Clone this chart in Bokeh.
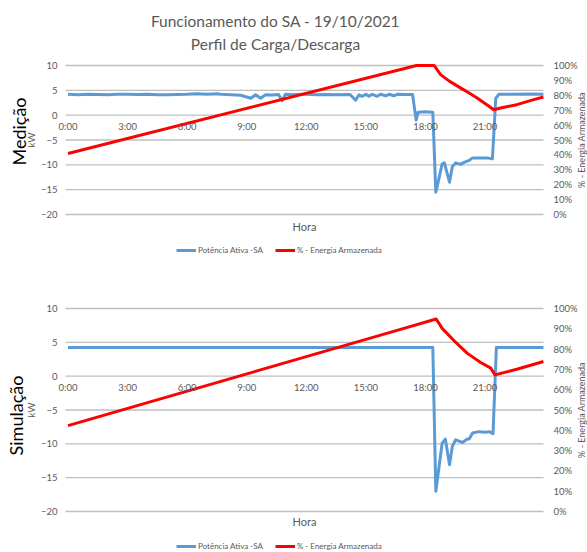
import math
from bokeh.plotting import figure
from bokeh.models import Range1d, LinearAxis, FixedTicker, Legend, Label
from bokeh.layouts import column
from bokeh.embed import file_html
from bokeh.resources import INLINE

# ---------------- data ----------------
TITLE_LINES = ["Funcionamento do SA - 19/10/2021", "Perfil de Carga/Descarga"]
ROW_LABELS = ["Medição", "Simulação"]
X_TITLE = "Hora"
Y_TITLE = "kW"
Y2_TITLE = "% - Energia Armazenada"
SERIES_NAMES = ["Potência Ativa -SA", "% - Energia Armazenada"]

HOUR_TICKS = [0, 3, 6, 9, 12, 15, 18, 21]
HOUR_LABELS = ["0:00", "3:00", "6:00", "9:00", "12:00", "15:00", "18:00", "21:00"]
KW_TICKS = [-20, -15, -10, -5, 0, 5, 10]
PCT_TICKS = [0, 10, 20, 30, 40, 50, 60, 70, 80, 90, 100]
PCT_LABELS = ["0%", "10%", "20%", "30%", "40%", "50%", "60%", "70%", "80%", "90%", "100%"]

# (hour, kW) measured active power
MED_POWER = [
    (0.0, 4.2), (0.5, 4.1), (1.0, 4.2), (1.5, 4.15), (2.0, 4.1), (2.5, 4.2),
    (3.0, 4.2), (3.5, 4.15), (4.0, 4.2), (4.5, 4.1), (5.0, 4.1), (5.5, 4.15),
    (6.0, 4.2), (6.5, 4.3), (7.0, 4.2), (7.5, 4.3), (7.7, 4.2), (8.2, 4.1),
    (8.7, 4.0), (9.2, 3.4), (9.45, 4.1), (9.7, 3.4), (9.95, 4.1), (10.3, 4.05),
    (10.6, 4.15), (10.78, 2.9), (10.95, 4.2), (11.3, 4.1), (11.7, 4.2), (12.0, 4.2),
    (12.5, 4.1), (13.0, 4.15), (13.5, 4.1), (14.2, 4.15), (14.48, 3.0), (14.65, 4.1),
    (14.8, 3.8), (15.0, 4.2), (15.15, 3.8), (15.32, 4.2), (15.57, 3.8), (15.74, 4.2),
    (16.0, 3.9), (16.16, 4.2), (16.41, 3.9), (16.57, 4.2), (17.0, 4.15), (17.35, 4.15),
    (17.53, -1.0), (17.63, 0.6), (18.0, 0.7), (18.37, 0.6), (18.52, -15.5), (18.62, -13.8),
    (18.84, -9.8), (18.95, -9.6), (19.21, -13.5), (19.35, -10.4), (19.52, -9.6), (19.77, -9.9),
    (19.94, -9.5), (20.2, -9.1), (20.37, -8.6), (20.7, -8.6), (21.1, -8.6), (21.37, -8.8),
    (21.54, 3.4), (21.7, 4.2), (22.5, 4.2), (23.2, 4.25), (23.94, 4.2),
]
# (hour, %) measured stored energy
MED_SOC = [
    (0.0, 40.9), (17.55, 100.0), (18.44, 100.0), (18.76, 93.9), (19.2, 89.5),
    (19.76, 85.0), (20.2, 81.5), (20.6, 78.2), (21.0, 74.5), (21.44, 70.3),
    (21.78, 71.5), (22.6, 73.7), (23.45, 77.1), (23.94, 78.9),
]
# (hour, kW) simulated active power
SIM_POWER = [
    (0.0, 4.25), (18.37, 4.25), (18.52, -17.0), (18.84, -9.9), (19.0, -9.3),
    (19.21, -13.1), (19.35, -10.4), (19.52, -9.4), (19.86, -9.8), (20.11, -9.3),
    (20.2, -9.3), (20.37, -8.4), (20.7, -8.2), (21.04, -8.3), (21.2, -8.2),
    (21.4, -8.5), (21.57, 4.25), (23.94, 4.25),
]
# (hour, %) simulated stored energy
SIM_SOC = [
    (0.0, 42.3), (16.74, 89.7), (18.54, 94.8), (18.84, 90.2), (19.43, 84.2),
    (20.11, 77.9), (20.78, 73.4), (21.29, 70.6), (21.5, 67.3), (22.6, 70.1),
    (23.94, 73.9),
]

# ---------------- style / layout (pixel positions on the page) ----------------
W = 587
PLOT_L, PLOT_R = 65, 543        # left/right edge of the chart area
X_ZERO_PX, PX_PER_H = 67.5, 19.86
BLUE = "#5b9bd5"
RED = "#ff0000"
GRID = "#bfbfbf"
TXT = "#595959"
FONT = "Lato"
TICK_SIZE = "9.5px"


def hx(px):
    return (px - X_ZERO_PX) / PX_PER_H


def style_axis(ax, standoff):
    ax.axis_line_color = None
    ax.major_tick_line_color = None
    ax.major_tick_out = 0
    ax.minor_tick_line_color = None
    ax.major_label_standoff = standoff
    ax.major_label_text_font = FONT
    ax.major_label_text_font_size = TICK_SIZE
    ax.major_label_text_color = TXT


def make_panel(fig_top, fig_h, top10, bottom20, power, soc, row_label, row_c,
               hora_c, legend_cy, title_cs=None):
    ppk = (bottom20 - top10) / 30.0

    def ky(py):
        return 10 - (py - top10) / ppk

    def pct(kw):
        return (kw + 20) / 30.0 * 100

    y_lo, y_hi = ky(fig_top + fig_h), ky(fig_top)
    p = figure(width=W, height=fig_h, x_range=Range1d(hx(0), hx(W)),
               y_range=Range1d(y_lo, y_hi), output_backend="svg",
               toolbar_location=None, min_border=0, min_border_left=0,
               min_border_right=0, min_border_top=0, min_border_bottom=0)
    p.extra_y_ranges = {"pct": Range1d(pct(y_lo), pct(y_hi))}
    p.outline_line_color = None
    p.grid.visible = False

    x_l, x_r = hx(PLOT_L), hx(PLOT_R)

    # horizontal gridlines at the kW ticks, across the chart area
    p.segment(x0=x_l, x1=x_r, y0=KW_TICKS, y1=KW_TICKS,
              line_color=GRID, line_width=1.4)

    # time axis crossing at 0 kW
    xa = p.xaxis[0]
    xa.fixed_location = 0
    xa.ticker = FixedTicker(ticks=HOUR_TICKS)
    xa.major_label_overrides = dict(zip(HOUR_TICKS, HOUR_LABELS))
    style_axis(xa, 6)

    # kW axis on the left
    ya = p.yaxis[0]
    ya.fixed_location = x_l
    ya.bounds = (-20, 10)
    ya.ticker = FixedTicker(ticks=KW_TICKS)
    style_axis(ya, 8)
    ya.axis_label = Y_TITLE
    ya.axis_label_standoff = 1
    ya.axis_label_text_font = FONT
    ya.axis_label_text_font_size = "10px"
    ya.axis_label_text_font_style = "normal"
    ya.axis_label_text_color = TXT

    # % axis on the right
    ra = LinearAxis(y_range_name="pct", ticker=FixedTicker(ticks=PCT_TICKS),
                    major_label_overrides=dict(zip(PCT_TICKS, PCT_LABELS)))
    ra.fixed_location = x_r
    ra.bounds = (0, 100)
    style_axis(ra, 10)
    p.add_layout(ra, "right")

    rb = p.line([a for a, b in power], [b for a, b in power], line_color=BLUE,
                line_width=3, line_join="round")
    rr = p.line([a for a, b in soc], [b for a, b in soc], line_color=RED,
                line_width=3, line_join="round", y_range_name="pct")

    def label(text, c, size, color, angle=0.0):
        p.add_layout(Label(x=hx(c[0]), y=ky(c[1]), text=text, angle=angle,
                           text_align="center", text_baseline="middle",
                           text_font=FONT, text_font_size=size, text_color=color))

    label(row_label, row_c, "18px", "#000000", math.pi / 2)
    label(Y2_TITLE, (581, (top10 + bottom20) / 2.0), "9px", TXT, math.pi / 2)
    label(X_TITLE, hora_c, "11px", TXT)
    if title_cs:
        for line, c in zip(TITLE_LINES, title_cs):
            label(line, c, "15.5px", TXT)

    leg_h = 10
    leg = Legend(items=[(SERIES_NAMES[0], [rb]), (SERIES_NAMES[1], [rr])],
                 location=(176, fig_top + fig_h - (legend_cy + leg_h / 2.0)),
                 orientation="horizontal", padding=0, margin=0, spacing=12,
                 label_standoff=2, glyph_width=20, glyph_height=leg_h,
                 label_height=leg_h, label_text_font=FONT,
                 label_text_font_size="8px", label_text_color=TXT,
                 border_line_color=None, background_fill_alpha=0)
    p.add_layout(leg)
    return p


p1 = make_panel(0, 270, 65, 214, MED_POWER, MED_SOC, ROW_LABELS[0], (18.5, 131),
                (304, 226), 250, title_cs=[(275, 20), (275, 43)])
p2 = make_panel(270, 282, 308, 511, SIM_POWER, SIM_SOC, ROW_LABELS[1], (15.5, 415),
                (304, 521), 546)

layout = column(p1, p2)
open("out.html", "w").write(file_html(layout, INLINE))
